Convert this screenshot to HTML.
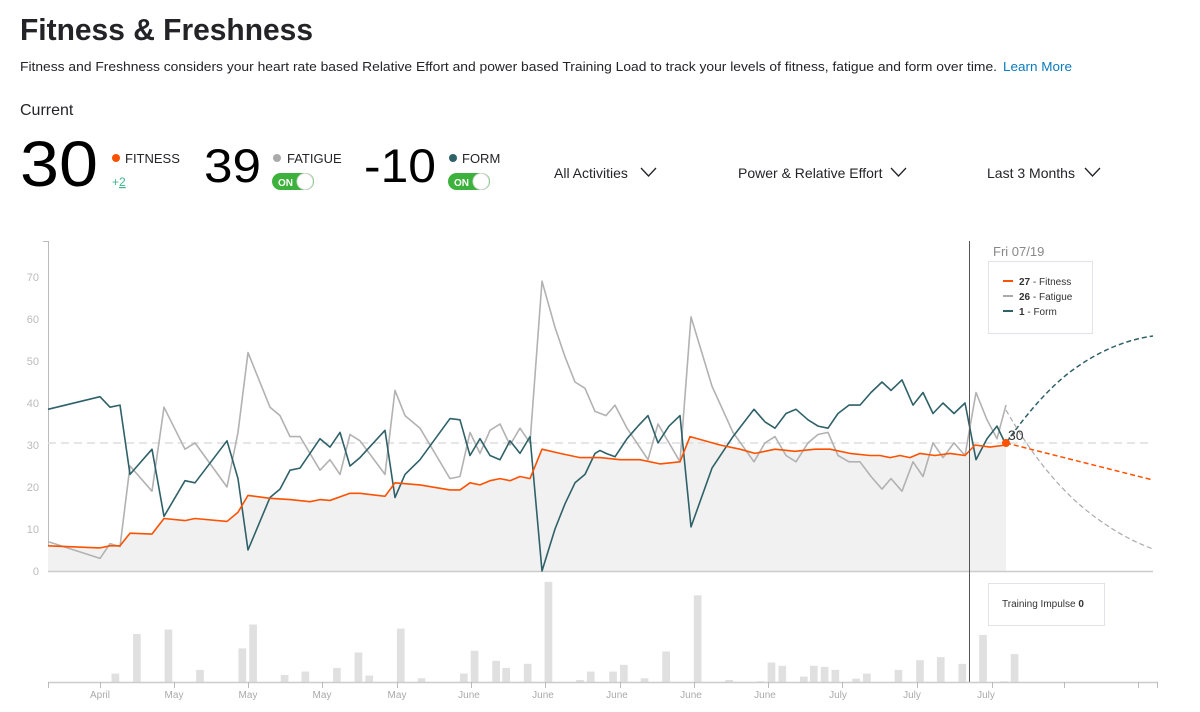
<!DOCTYPE html>
<html><head><meta charset="utf-8"><style>
html,body{margin:0;padding:0;background:#fff;}
svg{display:block;font-family:"Liberation Sans",sans-serif;}
</style></head><body>
<svg width="1200" height="712" viewBox="0 0 1200 712" xmlns="http://www.w3.org/2000/svg">
<!-- header -->
<text x="20" y="40" font-size="31" font-weight="bold" fill="#242428" textLength="293" lengthAdjust="spacingAndGlyphs">Fitness &amp; Freshness</text>
<text x="20" y="71" font-size="13" fill="#242428" textLength="977" lengthAdjust="spacingAndGlyphs">Fitness and Freshness considers your heart rate based Relative Effort and power based Training Load to track your levels of fitness, fatigue and form over time.</text>
<text x="1003" y="71" font-size="13" fill="#0a7bbd" textLength="69" lengthAdjust="spacingAndGlyphs">Learn More</text>
<text x="20" y="115" font-size="16" fill="#242428">Current</text>
<text x="20" y="186" font-size="64" fill="#000" textLength="78" lengthAdjust="spacingAndGlyphs">30</text>
<circle cx="116" cy="158" r="4" fill="#fc5200"/>
<text x="125" y="163" font-size="13" fill="#242428">FITNESS</text>
<text x="112" y="186" font-size="12" fill="#3fb68b">+<tspan text-decoration="underline">2</tspan></text>
<text x="204" y="182" font-size="47" fill="#000" textLength="57" lengthAdjust="spacingAndGlyphs">39</text>
<circle cx="277" cy="158" r="4" fill="#aaa"/>
<text x="287" y="163" font-size="13" fill="#242428">FATIGUE</text>
<rect x="272" y="173" width="42" height="17" rx="8.5" fill="#3cb23c"/>
<text x="278" y="186" font-size="10" font-weight="bold" fill="#fff">ON</text>
<circle cx="305" cy="181.5" r="8" fill="#fff" stroke="#ddd"/>
<text x="364" y="182" font-size="47" fill="#000" textLength="72" lengthAdjust="spacingAndGlyphs">-10</text>
<circle cx="453" cy="158" r="4" fill="#2f6168"/>
<text x="462" y="163" font-size="13" fill="#242428">FORM</text>
<rect x="448" y="173" width="42" height="17" rx="8.5" fill="#3cb23c"/>
<text x="454" y="186" font-size="10" font-weight="bold" fill="#fff">ON</text>
<circle cx="481" cy="181.5" r="8" fill="#fff" stroke="#ddd"/>
<text x="554" y="178" font-size="14" fill="#242428">All Activities</text>
<polyline points="641,168 648.5,176 656,168" fill="none" stroke="#242428" stroke-width="1.3"/>
<text x="738" y="178" font-size="14" fill="#242428">Power &amp; Relative Effort</text>
<polyline points="891,168 898.5,176 906,168" fill="none" stroke="#242428" stroke-width="1.3"/>
<text x="987" y="178" font-size="14" fill="#242428">Last 3 Months</text>
<polyline points="1085,168 1092.5,176 1100,168" fill="none" stroke="#242428" stroke-width="1.3"/>

<!-- y axis -->
<g font-size="11" fill="#bbb" text-anchor="end">
<text x="39" y="575">0</text><text x="39" y="533">10</text><text x="39" y="491">20</text><text x="39" y="449">30</text><text x="39" y="407">40</text><text x="39" y="365">50</text><text x="39" y="323">60</text><text x="39" y="281">70</text>
</g>
<line x1="48.5" y1="241" x2="48.5" y2="572" stroke="#bbb"/>
<line x1="43" y1="241.5" x2="48" y2="241.5" stroke="#bbb"/>

<g transform="translate(0,571) scale(1,-4.2)">
<polygon fill="#f1f1f1" points="48,0 48,6 100,5.5 110,6 120,6 130,9 152,8.8 164,12.5 185,12 195,12.5 227,11.8 238,14 248,18 270,17.3 290,17 310,16.5 320,17 330,16.8 350,18.5 360,18.5 385,17.8 395,21 420,20.5 450,19.3 460,19.3 470,21 480,20.5 490,21.5 500,22 510,21.5 520,22.5 530,22 542,29 560,28 580,27 600,27 620,26.5 640,26.5 660,25.5 680,26 690,32 720,30 740,29 755,28 775,29 795,28.5 815,29 830,29 850,28 870,27.5 880,27.5 890,27 900,27.5 910,27 920,28 935,27.5 950,28 965,27.5 975,30 990,29.5 1006,30 1006,0"/>
</g>
<line x1="48" y1="443" x2="1153" y2="443" stroke="#ddd" stroke-width="1.5" stroke-dasharray="8,5"/>
<line x1="48" y1="571.5" x2="1153" y2="571.5" stroke="#ccc" stroke-width="1.5"/>

<g transform="translate(0,571) scale(1,-4.2)" fill="none" stroke-width="1.6" stroke-linejoin="round">
<polyline vector-effect="non-scaling-stroke" stroke="#b2b2b2" points="48,7 100,3 110,6.5 120,5.8 130,25 152,19 164,39 185,29 195,30.5 227,20 238,33 248,52 270,39 280,37 290,32 300,32 320,24 330,26.5 340,23 350,32.5 360,31 385,23 395,43 405,37 420,34 450,22 460,22.5 470,33 480,28 490,33.5 500,35 510,30 520,34 530,30.5 542,69 555,58 565,51 575,45 585,43.5 595,38 606,37 615,39.5 627,34 648,26.5 658,35 680,26 691,60.5 712,44 733,33 754,26 765,30.5 775,32 786,27.5 796,26 808,30.5 818,32.5 828,33 838,27.5 849,26 860,26 871,22.5 882,19.5 891,22 902,19 913,26 923,22.5 933,30.5 943,27 954,30.5 965,27.5 976,42.5 987,36 997,31.5 1006,39.5"/>
<polyline vector-effect="non-scaling-stroke" stroke="#2f6168" points="48,38.5 100,41.5 110,39 120,39.5 130,23 152,29 164,13 185,21.5 195,21 227,31 238,22 248,5 270,17.5 280,19.5 290,24 300,24.5 320,31.5 330,29.5 340,33 350,25 360,27 385,33.5 395,17.5 405,23 420,26.5 450,36.3 460,36 470,27.5 480,31.5 490,27.5 500,26.5 510,31 520,28 530,32 542,0 555,10 565,16 575,21 585,23 595,28 600,28.7 606,28 615,27.2 627,31.5 638,34.5 648,37 658,30.5 669,34.5 680,37 691,10.5 712,24.5 733,32 754,38.5 765,35.5 775,34 786,37.5 796,38.5 808,36 818,34.5 828,34 838,37.5 849,39.5 860,39.5 871,42.5 882,45 891,43 902,45.5 913,39.5 923,42.5 933,37.5 943,40 954,37.5 965,40 976,26.5 987,31.5 997,34.5 1006,30"/>
<polyline vector-effect="non-scaling-stroke" stroke="#fc5200" points="48,6 100,5.5 110,6 120,6 130,9 152,8.8 164,12.5 185,12 195,12.5 227,11.8 238,14 248,18 270,17.3 290,17 310,16.5 320,17 330,16.8 350,18.5 360,18.5 385,17.8 395,21 420,20.5 450,19.3 460,19.3 470,21 480,20.5 490,21.5 500,22 510,21.5 520,22.5 530,22 542,29 560,28 580,27 600,27 620,26.5 640,26.5 660,25.5 680,26 690,32 720,30 740,29 755,28 775,29 795,28.5 815,29 830,29 850,28 870,27.5 880,27.5 890,27 900,27.5 910,27 920,28 935,27.5 950,28 965,27.5 975,30 990,29.5 1006,30"/>
</g>
<!-- projections -->
<path d="M1006,443 Q1040,395 1070,372 Q1110,342 1153,336" fill="none" stroke="#2f6168" stroke-width="1.5" stroke-dasharray="5,3"/>
<path d="M1006,410 Q1040,470 1080,505 Q1115,535 1153,549" fill="none" stroke="#aaa" stroke-width="1.2" stroke-dasharray="5,3"/>
<path d="M1006,443 L1153,480" fill="none" stroke="#fc5200" stroke-width="1.5" stroke-dasharray="5,3"/>
<circle cx="1006" cy="443" r="4" fill="#fc5200"/>
<text x="1008" y="440" font-size="14" fill="#333">30</text>

<!-- vertical cursor -->
<line x1="969.5" y1="241" x2="969.5" y2="683" stroke="#555" stroke-width="1"/>
<text x="993" y="256" font-size="13" fill="#888">Fri 07/19</text>
<rect x="988.5" y="261.5" width="104" height="72" fill="#fff" stroke="#e2e2ea"/>
<g font-size="10" fill="#333">
<line x1="1003" y1="281" x2="1013" y2="281" stroke="#fc5200" stroke-width="2"/>
<text x="1019" y="285"><tspan font-weight="bold">27</tspan> - Fitness</text>
<line x1="1003" y1="296" x2="1013" y2="296" stroke="#aaa" stroke-width="2"/>
<text x="1019" y="300"><tspan font-weight="bold">26</tspan> - Fatigue</text>
<line x1="1003" y1="311" x2="1013" y2="311" stroke="#2f6168" stroke-width="2"/>
<text x="1019" y="315"><tspan font-weight="bold">1</tspan> - Form</text>
</g>
<rect x="988.5" y="583.5" width="116" height="42" fill="#fff" stroke="#e2e2ea"/>
<text x="1002" y="607" font-size="10" fill="#333">Training Impulse <tspan font-weight="bold">0</tspan></text>

<!-- bars -->
<g transform="matrix(0.7692,0,0,0.336,0,570.1)" fill="#e0e0e0">
<rect x="145" y="308" width="10" height="25"/><rect x="173" y="190" width="10" height="143"/><rect x="214" y="177" width="10" height="156"/><rect x="255" y="297" width="10" height="36"/><rect x="310" y="233" width="10" height="100"/><rect x="324" y="162" width="10" height="171"/><rect x="365" y="312" width="10" height="21"/><rect x="392" y="302" width="10" height="31"/><rect x="433" y="291" width="10" height="42"/><rect x="461" y="245" width="10" height="88"/><rect x="475" y="314" width="10" height="19"/><rect x="516" y="174" width="10" height="159"/><rect x="543" y="322" width="10" height="11"/><rect x="598" y="308" width="10" height="25"/><rect x="612" y="240" width="10" height="93"/><rect x="640" y="270" width="10" height="63"/><rect x="653" y="291" width="10" height="42"/><rect x="681" y="279" width="10" height="54"/><rect x="708" y="35" width="10" height="298"/><rect x="749" y="327" width="10" height="6"/><rect x="763" y="302" width="10" height="31"/><rect x="792" y="302" width="10" height="31"/><rect x="806" y="282" width="10" height="51"/><rect x="833" y="322" width="10" height="11"/><rect x="861" y="242" width="10" height="91"/><rect x="902" y="75" width="10" height="258"/><rect x="943" y="327" width="10" height="6"/><rect x="984" y="331" width="10" height="2"/><rect x="998" y="275" width="10" height="58"/><rect x="1012" y="285" width="10" height="48"/><rect x="1040" y="317" width="10" height="16"/><rect x="1053" y="285" width="10" height="48"/><rect x="1067" y="288" width="10" height="45"/><rect x="1081" y="297" width="10" height="36"/><rect x="1108" y="323" width="10" height="10"/><rect x="1122" y="308" width="10" height="25"/><rect x="1163" y="297" width="10" height="36"/><rect x="1191" y="268" width="10" height="65"/><rect x="1218" y="259" width="10" height="74"/><rect x="1246" y="279" width="10" height="54"/><rect x="1273" y="193" width="10" height="140"/><rect x="1300" y="331" width="10" height="2"/><rect x="1314" y="250" width="10" height="83"/>
</g>
<line x1="48" y1="682.5" x2="1158" y2="682.5" stroke="#ccc" stroke-width="1.5"/>
<g stroke="#bbb">
<line x1="48.5" y1="682" x2="48.5" y2="688"/><line x1="100.5" y1="682" x2="100.5" y2="688"/><line x1="174.5" y1="682" x2="174.5" y2="688"/><line x1="248.5" y1="682" x2="248.5" y2="688"/><line x1="322.5" y1="682" x2="322.5" y2="688"/><line x1="397.5" y1="682" x2="397.5" y2="688"/><line x1="471.5" y1="682" x2="471.5" y2="688"/><line x1="545.5" y1="682" x2="545.5" y2="688"/><line x1="620.5" y1="682" x2="620.5" y2="688"/><line x1="694.5" y1="682" x2="694.5" y2="688"/><line x1="768.5" y1="682" x2="768.5" y2="688"/><line x1="842.5" y1="682" x2="842.5" y2="688"/><line x1="917.5" y1="682" x2="917.5" y2="688"/><line x1="992.5" y1="682" x2="992.5" y2="688"/><line x1="1064.5" y1="682" x2="1064.5" y2="688"/><line x1="1138.5" y1="682" x2="1138.5" y2="688"/><line x1="1157.5" y1="682" x2="1157.5" y2="688"/>
</g>
<g font-size="10" fill="#aaa" text-anchor="middle">
<text x="100" y="698">April</text><text x="174" y="698">May</text><text x="248" y="698">May</text><text x="322" y="698">May</text><text x="397" y="698">May</text><text x="469" y="698">June</text><text x="543" y="698">June</text><text x="617" y="698">June</text><text x="691" y="698">June</text><text x="765" y="698">June</text><text x="838" y="698">July</text><text x="912" y="698">July</text><text x="986" y="698">July</text>
</g>
</svg>
</body></html>
